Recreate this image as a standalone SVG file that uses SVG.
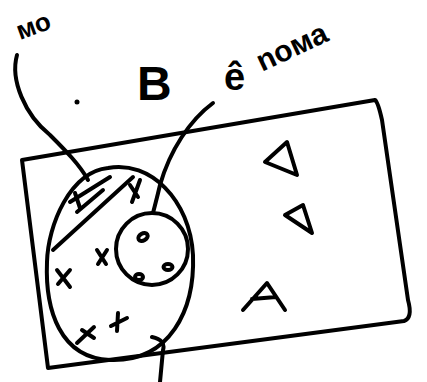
<svg xmlns="http://www.w3.org/2000/svg" width="427" height="382" viewBox="0 0 427 382">
<style>
.s{fill:none;stroke:#000;stroke-width:4;stroke-linecap:round;stroke-linejoin:round}
.t{font-family:"Liberation Sans",sans-serif;fill:#000;font-weight:bold}
</style>
<rect width="427" height="382" fill="#fff"/>
<g id="frame">
<path class="s" d="M22,160 L375,100 Q378,102 382,120 L408,300 Q413,318 404,321 L48,368 L22,160"/>
</g>
<g id="set-big">
<path class="s" d="M108,168 C150,160 190,200 193,255 C195,310 170,362 110,360 C60,358 45,310 47,262 C48,225 70,172 108,168 Z"/>
<path class="s" d="M53,250 L133,177"/>
<path class="s" d="M70,202 L110,177 M77,212 L103,190 M75,193 L80,208 M130,185 L138,197 M140,180 L132,202"/>
</g>
<g id="set-small">
<ellipse class="s" cx="152" cy="249" rx="36" ry="36"/>
<ellipse class="s" cx="143" cy="237" rx="5" ry="3.5" transform="rotate(-30 143 237)"/>
<ellipse class="s" cx="139" cy="277" rx="4" ry="3"/>
<ellipse class="s" cx="168" cy="267" rx="4.5" ry="3"/>
</g>
<g id="crosses">
<path class="s" d="M97,250 L106,264 M107,250 L98,264"/>
<path class="s" d="M57,270 L70,287 M70,270 L58,284"/>
<path class="s" d="M77,343 L94,327 M82,330 L94,338"/>
<path class="s" d="M111,326 L127,318 M118,313 L117,331"/>
</g>
<g id="triangles">
<path class="s" d="M265,162 L287,142 L297,175 Z"/>
<path class="s" d="M285,215 L303,205 L312,233 Z"/>
<path class="s" d="M243,310 L267,283 L285,310 M252,299 L276,297"/>
</g>
<g id="labels">
<text class="t" x="137" y="100" font-size="48">B</text>
<text class="t" x="224" y="90" font-size="38">ê</text>
<text class="t" x="262" y="72" font-size="30" transform="rotate(-25 262 72)">noма</text>
<text class="t" x="20" y="40" font-size="26" transform="rotate(-20 20 40)">мо</text>
<circle cx="77" cy="102" r="2.5" fill="#000"/>
</g>
<g id="connectors">
<path class="s" d="M17,55 C10,80 25,115 50,135 C65,150 80,165 88,180"/>
<path class="s" d="M213,103 C190,120 170,150 160,185 C157,198 155,205 153,213"/>
<path class="s" d="M152,337 Q166,340 163,350 L160,382"/>
</g>
</svg>
